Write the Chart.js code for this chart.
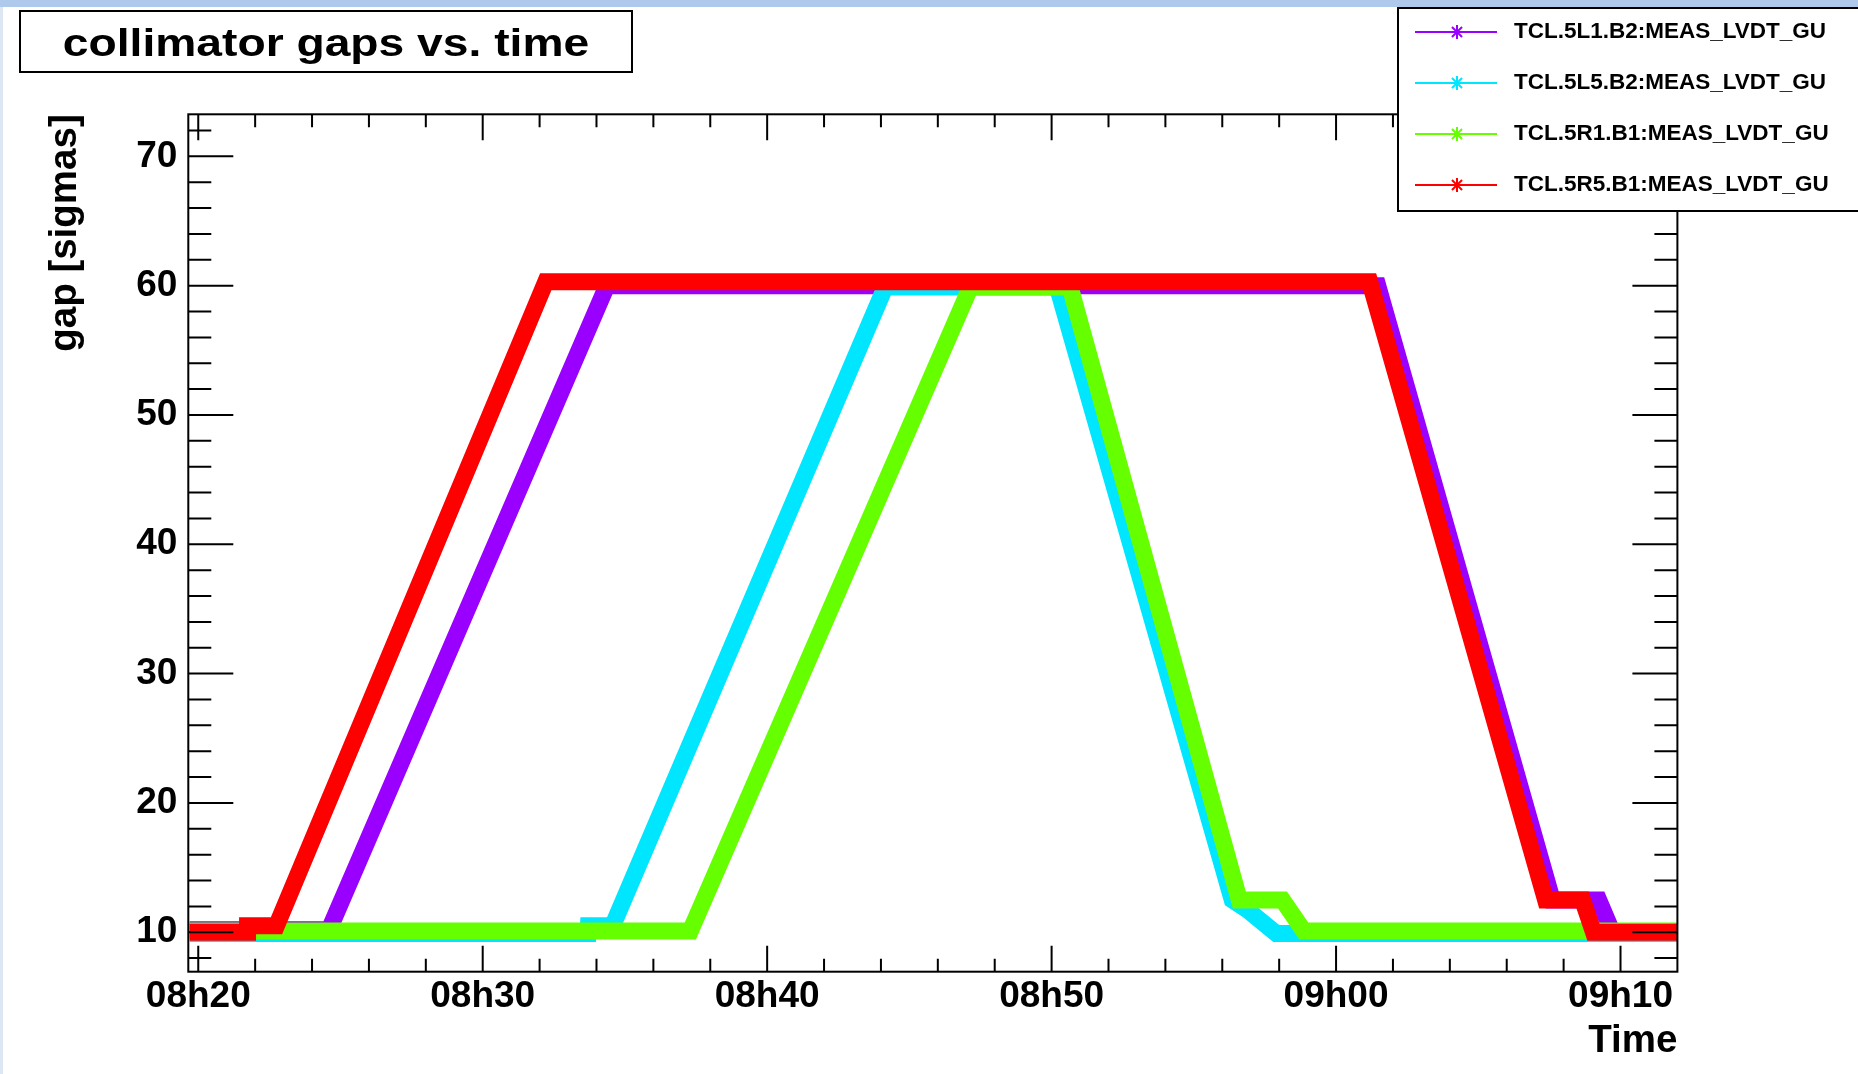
<!DOCTYPE html>
<html>
<head>
<meta charset="utf-8">
<script src="https://cdn.jsdelivr.net/npm/chart.js@4.4.1/dist/chart.umd.min.js"></script>
<style>
html, body { margin: 0; padding: 0; background: #fff; overflow: hidden; }
</style>
</head>
<body>
<canvas id="gaps" width="1858" height="1074"></canvas>
<script>
// Chart title and axis titles
const chartTitle = 'collimator gaps vs. time';
const yTitle = 'gap [sigmas]';
const xTitle = 'Time';

// Tick labels
const xTickLabels = ['08h20', '08h30', '08h40', '08h50', '09h00', '09h10'];
const yTickValues = [10, 20, 30, 40, 50, 60, 70];
const xRange = ['08:19:39', '09:12:00'];
const yRange = [6.95, 73.25];

// Series
const seriesNames = ['TCL.5L1.B2:MEAS_LVDT_GU', 'TCL.5L5.B2:MEAS_LVDT_GU', 'TCL.5R1.B1:MEAS_LVDT_GU', 'TCL.5R5.B1:MEAS_LVDT_GU'];
const seriesColors = ['#9900ff', '#00e6ff', '#66ff00', '#ff0000'];

const l1Times = ['08:19:42', '08:24:36', '08:34:22', '09:01:28', '09:07:36', '09:09:14', '09:09:43', '09:12:00'];
const l1Gaps  = [10.2, 10.2, 60.0, 60.0, 12.5, 12.5, 10.0, 10.0];

const l5Times = ['08:19:42', '08:33:42', '08:33:43', '08:34:34', '08:44:09', '08:50:12', '08:56:21', '08:56:54', '08:57:54', '09:12:00'];
const l5Gaps  = [9.9, 9.9, 10.5, 10.5, 59.9, 59.9, 12.5, 11.7, 9.9, 9.9];

const r1Times = ['08:19:42', '08:37:18', '08:47:09', '08:50:39', '08:56:36', '08:58:07', '08:58:52', '09:12:00'];
const r1Gaps  = [10.1, 10.1, 59.9, 59.9, 12.5, 12.5, 10.1, 10.1];

const r5Times = ['08:19:42', '08:21:43', '08:21:44', '08:22:45', '08:32:13', '09:01:11', '09:07:22', '09:08:40', '09:09:03', '09:12:00'];
const r5Gaps  = [10.0, 10.0, 10.5, 10.5, 60.3, 60.3, 12.5, 12.5, 10.0, 10.0];

const seriesTimes = [l1Times, l5Times, r1Times, r5Times];
const seriesGaps = [l1Gaps, l5Gaps, r1Gaps, r5Gaps];

// minutes since midnight
function toMin(s) {
    const p = s.replace('h', ':').split(':').map(Number);
    return p[0] * 60 + p[1] + (p[2] || 0) / 60;
}
function fmtTime(m) {
    const h = Math.floor(m / 60), mm = Math.round(m - h * 60);
    return String(h).padStart(2, '0') + 'h' + String(mm).padStart(2, '0');
}

const FONT = '"Liberation Sans", Arial, Helvetica, sans-serif';

// ROOT-like frame, inner ticks, title box and legend
const rootStyle = {
    id: 'rootStyle',
    beforeDraw(chart) {
        const ctx = chart.ctx;
        ctx.save();
        ctx.fillStyle = '#fff';
        ctx.fillRect(0, 0, chart.width, chart.height);
        ctx.fillStyle = '#dde7f4';
        ctx.fillRect(0, 0, 3, chart.height);
        ctx.fillStyle = '#aec9ec';
        ctx.fillRect(0, 0, chart.width, 7);
        ctx.restore();
    },
    afterDraw(chart) {
        const ctx = chart.ctx;
        const a = chart.chartArea;
        const x = chart.scales.x, y = chart.scales.y;
        ctx.save();
        ctx.strokeStyle = '#000';
        ctx.lineWidth = 2;
        ctx.beginPath();
        // y ticks, left and right
        for (let v = Math.ceil(y.min / 2) * 2; v <= y.max; v += 2) {
            const py = y.getPixelForValue(v);
            const len = yTickValues.includes(v) ? 45 : 23;
            ctx.moveTo(a.left, py); ctx.lineTo(a.left + len, py);
            ctx.moveTo(a.right, py); ctx.lineTo(a.right - len, py);
        }
        // x ticks, bottom and top
        const t0 = toMin(xTickLabels[0]);
        for (let t = t0 - Math.floor((t0 - x.min) / 2) * 2; t < x.max - 0.01; t += 2) {
            const px = x.getPixelForValue(t);
            const major = Math.abs(((t - t0) % 10 + 10) % 10) < 0.01;
            const len = major ? 26 : 13;
            ctx.moveTo(px, a.bottom); ctx.lineTo(px, a.bottom - len);
            ctx.moveTo(px, a.top); ctx.lineTo(px, a.top + len);
        }
        ctx.stroke();
        ctx.strokeRect(a.left, a.top, a.right - a.left, a.bottom - a.top);

        // title box
        ctx.fillStyle = '#fff';
        ctx.fillRect(20, 11, 612, 61);
        ctx.strokeRect(20, 11, 612, 61);
        ctx.save();
        ctx.translate(326, 55.5);
        ctx.scale(1.2, 1);
        ctx.fillStyle = '#000';
        ctx.font = 'bold 38.5px ' + FONT;
        ctx.textAlign = 'center';
        ctx.textBaseline = 'alphabetic';
        ctx.fillText(chartTitle, 0, 0);
        ctx.restore();

        // legend
        ctx.fillStyle = '#fff';
        ctx.fillRect(1398, 8, 480, 203);
        ctx.strokeRect(1398, 8, 480, 203);
        ctx.font = 'bold 22.5px ' + FONT;
        ctx.textAlign = 'left';
        ctx.textBaseline = 'middle';
        chart.data.datasets.forEach((ds, i) => {
            const ly = 32 + i * 51;
            ctx.strokeStyle = ds.borderColor;
            ctx.lineWidth = 2;
            ctx.beginPath();
            ctx.moveTo(1415, ly); ctx.lineTo(1497, ly);
            const mx = 1457, r = 7, d = r * 0.72;
            ctx.moveTo(mx, ly - r); ctx.lineTo(mx, ly + r);
            ctx.moveTo(mx - d, ly - d); ctx.lineTo(mx + d, ly + d);
            ctx.moveTo(mx - d, ly + d); ctx.lineTo(mx + d, ly - d);
            ctx.stroke();
            ctx.fillStyle = '#000';
            ctx.fillText(ds.label, 1514, ly);
        });
        ctx.restore();
    }
};

const datasets = seriesNames.map((name, i) => ({
    label: name,
    data: seriesTimes[i].map((t, k) => ({ x: toMin(t), y: seriesGaps[i][k] })),
    borderColor: seriesColors[i],
    backgroundColor: seriesColors[i],
    borderWidth: 17,
    borderJoinStyle: 'miter',
    borderCapStyle: 'butt',
    pointRadius: 0,
    tension: 0,
    fill: false,
    order: seriesNames.length - i
}));

new Chart(document.getElementById('gaps'), {
    type: 'line',
    data: { datasets: datasets },
    options: {
        responsive: false,
        animation: false,
        events: [],
        layout: { padding: { left: 0, top: 114.3, right: 180.6, bottom: 0 } },
        plugins: {
            legend: { display: false },
            title: { display: false },
            tooltip: { enabled: false }
        },
        scales: {
            x: {
                type: 'linear',
                min: toMin(xRange[0]),
                max: toMin(xRange[1]),
                afterBuildTicks: s => { s.ticks = xTickLabels.map(l => ({ value: toMin(l) })); },
                afterFit: s => { s.height = 102.3; },
                grid: { display: false, drawTicks: false },
                border: { display: false },
                ticks: {
                    autoSkip: false,
                    maxRotation: 0,
                    padding: 7,
                    color: '#000',
                    font: { family: FONT, size: 37, weight: 'bold', lineHeight: 1 },
                    callback: v => fmtTime(v)
                },
                title: {
                    display: true,
                    text: xTitle,
                    align: 'end',
                    color: '#000',
                    font: { family: FONT, size: 38.5, weight: 'bold', lineHeight: 1 },
                    padding: { top: 0, bottom: 13 }
                }
            },
            y: {
                type: 'linear',
                min: yRange[0],
                max: yRange[1],
                afterBuildTicks: s => { s.ticks = yTickValues.map(v => ({ value: v })); },
                afterFit: s => { s.width = 188.3; },
                grid: { display: false, drawTicks: false },
                border: { display: false },
                ticks: {
                    padding: 11,
                    color: '#000',
                    font: { family: FONT, size: 37, weight: 'bold', lineHeight: 1 }
                },
                title: {
                    display: true,
                    text: yTitle,
                    align: 'end',
                    color: '#000',
                    font: { family: FONT, size: 38.5, weight: 'bold', lineHeight: 1 },
                    padding: { top: 46, bottom: 0 }
                }
            }
        }
    },
    plugins: [rootStyle]
});
</script>
</body>
</html>
